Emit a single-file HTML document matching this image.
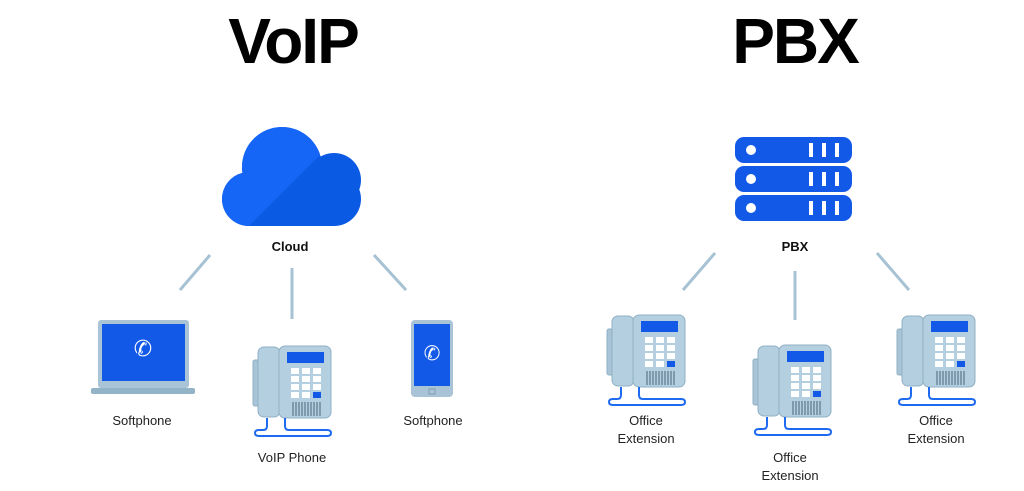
<!DOCTYPE html>
<html><head><meta charset="utf-8"><style>
html,body{margin:0;padding:0;background:#fff;width:1024px;height:491px;overflow:hidden}
</style></head><body>
<svg width="1024" height="491" viewBox="0 0 1024 491" xmlns="http://www.w3.org/2000/svg">
<defs>
<g id="ph">
  <rect x="0" y="14" width="7" height="46" rx="2" fill="#a9c4d6" stroke="#8fb0c4"/>
  <rect x="5" y="1" width="22" height="70" rx="6" fill="#b4cfe0" stroke="#8fb0c4"/>
  <rect x="26" y="0" width="52" height="72" rx="6" fill="#b4cfe0" stroke="#8fb0c4"/>
  <rect x="34" y="6" width="37" height="11" fill="#1259e8"/>
  <g fill="#fff">
    <rect x="38" y="22" width="8" height="6"/><rect x="49" y="22" width="8" height="6"/><rect x="60" y="22" width="8" height="6"/>
    <rect x="38" y="30" width="8" height="6"/><rect x="49" y="30" width="8" height="6"/><rect x="60" y="30" width="8" height="6"/>
    <rect x="38" y="38" width="8" height="6"/><rect x="49" y="38" width="8" height="6"/><rect x="60" y="38" width="8" height="6"/>
    <rect x="38" y="46" width="8" height="6"/><rect x="49" y="46" width="8" height="6"/>
  </g>
  <rect x="60" y="46" width="8" height="6" fill="#1259e8"/>
  <g stroke="#4a6678" stroke-width="1">
    <line x1="40" y1="56" x2="40" y2="70"/><line x1="43" y1="56" x2="43" y2="70"/><line x1="46" y1="56" x2="46" y2="70"/><line x1="49" y1="56" x2="49" y2="70"/><line x1="52" y1="56" x2="52" y2="70"/><line x1="55" y1="56" x2="55" y2="70"/><line x1="58" y1="56" x2="58" y2="70"/><line x1="61" y1="56" x2="61" y2="70"/><line x1="64" y1="56" x2="64" y2="70"/><line x1="67" y1="56" x2="67" y2="70"/>
  </g>
  <path d="M14 72 V80 Q14 84 10 84 H6 Q2 84 2 87 Q2 90 6 90 H74 Q78 90 78 87 Q78 84 74 84 H36 Q32 84 32 80 V72" fill="none" stroke="#1f6bf0" stroke-width="2"/>
</g>
<clipPath id="cl">
  <circle cx="282" cy="167" r="40"/>
  <circle cx="334" cy="180" r="27"/>
  <circle cx="334" cy="199" r="27"/>
  <circle cx="249" cy="199" r="27"/>
  <rect x="249" y="175" width="85" height="51"/>
</clipPath>
</defs>
<text x="293" y="63" text-anchor="middle" font-family="Liberation Sans, sans-serif" font-weight="bold" font-size="64" letter-spacing="-2" fill="#000">VoIP</text>
<text x="795" y="63" text-anchor="middle" font-family="Liberation Sans, sans-serif" font-weight="bold" font-size="64" letter-spacing="-2" fill="#000">PBX</text>
<!-- cloud -->
<g clip-path="url(#cl)">
  <rect x="215" y="120" width="150" height="110" fill="#0b5ae4"/>
  <path d="M215 120 H360 L325 150 L249 226 H215 Z" fill="#1565f7"/>
</g>
<text x="290" y="251" text-anchor="middle" font-family="Liberation Sans, sans-serif" font-weight="bold" font-size="13" fill="#111">Cloud</text>
<!-- server -->
<g fill="#1259e8">
  <rect x="735" y="137" width="117" height="26" rx="9"/>
  <rect x="735" y="166" width="117" height="26" rx="9"/>
  <rect x="735" y="195" width="117" height="26" rx="9"/>
</g>
<g fill="#fff">
  <circle cx="751" cy="150" r="5"/><circle cx="751" cy="179" r="5"/><circle cx="751" cy="208" r="5"/>
  <rect x="809" y="143" width="4" height="14"/><rect x="822" y="143" width="4" height="14"/><rect x="835" y="143" width="4" height="14"/>
  <rect x="809" y="172" width="4" height="14"/><rect x="822" y="172" width="4" height="14"/><rect x="835" y="172" width="4" height="14"/>
  <rect x="809" y="201" width="4" height="14"/><rect x="822" y="201" width="4" height="14"/><rect x="835" y="201" width="4" height="14"/>
</g>
<text x="795" y="251" text-anchor="middle" font-family="Liberation Sans, sans-serif" font-weight="bold" font-size="13" fill="#111">PBX</text>
<!-- connectors -->
<g stroke="#a6c2d3" stroke-width="3">
  <line x1="210" y1="255" x2="180" y2="290"/>
  <line x1="292" y1="268" x2="292" y2="319"/>
  <line x1="374" y1="255" x2="406" y2="290"/>
  <line x1="715" y1="253" x2="683" y2="290"/>
  <line x1="795" y1="271" x2="795" y2="320"/>
  <line x1="877" y1="253" x2="909" y2="290"/>
</g>
<!-- laptop -->
<rect x="98" y="320" width="91" height="68" rx="3" fill="#a9c4d6"/>
<rect x="102" y="324" width="83" height="57" fill="#1259e8"/>
<rect x="91" y="388" width="104" height="6" rx="2" fill="#93b3c7"/>
<text x="143" y="356" text-anchor="middle" font-size="22" fill="#fff" font-family="DejaVu Sans, sans-serif">✆</text>
<text x="142" y="425" text-anchor="middle" font-family="Liberation Sans, sans-serif" font-size="13" fill="#222">Softphone</text>
<!-- smartphone -->
<rect x="411" y="320" width="42" height="77" rx="4" fill="#a9c4d6"/>
<rect x="414" y="324" width="36" height="62" fill="#1259e8"/>
<rect x="429" y="389" width="6" height="5" fill="none" stroke="#7d9db1"/>
<text x="432" y="360" text-anchor="middle" font-size="20" fill="#fff" font-family="DejaVu Sans, sans-serif">✆</text>
<text x="433" y="425" text-anchor="middle" font-family="Liberation Sans, sans-serif" font-size="13" fill="#222">Softphone</text>
<!-- phones -->
<use href="#ph" transform="translate(253,346)"/>
<use href="#ph" transform="translate(607,315)"/>
<use href="#ph" transform="translate(753,345)"/>
<use href="#ph" transform="translate(897,315)"/>
<g font-family="Liberation Sans, sans-serif" font-size="13" fill="#222" text-anchor="middle">
<text x="292" y="462">VoIP Phone</text>
<text x="646" y="425">Office</text><text x="646" y="443">Extension</text>
<text x="790" y="462">Office</text><text x="790" y="480">Extension</text>
<text x="936" y="425">Office</text><text x="936" y="443">Extension</text>
</g>
</svg>
</body></html>
